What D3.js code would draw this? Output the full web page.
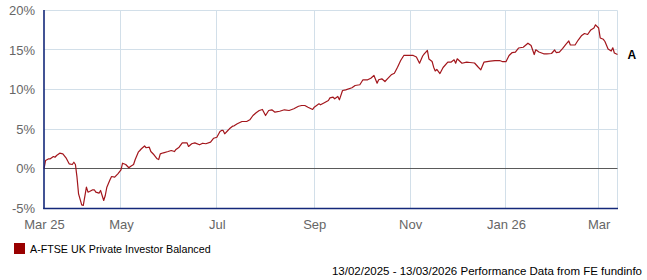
<!DOCTYPE html>
<html><head><meta charset="utf-8">
<script src="https://cdn.jsdelivr.net/npm/d3@7"></script>
<style>body{margin:0;background:#fff}svg{display:block}</style>
</head><body><svg id="c" width="647" height="280"></svg>
<script>
const dates = [
"2025-03-13","2025-03-14","2025-03-16","2025-03-17","2025-03-19","2025-03-20","2025-03-21","2025-03-23","2025-03-25","2025-03-27","2025-03-29","2025-03-31",
"2025-04-01","2025-04-02","2025-04-03","2025-04-04","2025-04-06","2025-04-07","2025-04-09","2025-04-10","2025-04-11","2025-04-13","2025-04-14","2025-04-15","2025-04-17","2025-04-18","2025-04-20","2025-04-21","2025-04-22","2025-04-24","2025-04-25","2025-04-27","2025-04-29",
"2025-05-01","2025-05-02","2025-05-04","2025-05-06","2025-05-07","2025-05-09","2025-05-10","2025-05-12","2025-05-13","2025-05-14","2025-05-16","2025-05-17","2025-05-19","2025-05-20","2025-05-22","2025-05-24","2025-05-25","2025-05-26","2025-05-28","2025-05-31",
"2025-06-02","2025-06-04","2025-06-05","2025-06-07","2025-06-09","2025-06-12","2025-06-13","2025-06-15","2025-06-17","2025-06-20","2025-06-22","2025-06-24","2025-06-27","2025-06-29",
"2025-07-01","2025-07-03","2025-07-04","2025-07-05","2025-07-06","2025-07-08","2025-07-09","2025-07-11","2025-07-12","2025-07-14","2025-07-17","2025-07-20","2025-07-22","2025-07-24","2025-07-26","2025-07-28","2025-07-30",
"2025-08-01","2025-08-03","2025-08-05","2025-08-07","2025-08-10","2025-08-13","2025-08-16","2025-08-19","2025-08-22","2025-08-24","2025-08-26","2025-08-28","2025-08-31",
"2025-09-01","2025-09-04","2025-09-05","2025-09-08","2025-09-10","2025-09-11","2025-09-13","2025-09-14","2025-09-16","2025-09-17","2025-09-19","2025-09-21","2025-09-25","2025-09-27","2025-09-30",
"2025-10-02","2025-10-05","2025-10-07","2025-10-09","2025-10-11","2025-10-12","2025-10-14","2025-10-16","2025-10-18","2025-10-20","2025-10-22","2025-10-24","2025-10-26","2025-10-28","2025-10-31",
"2025-11-03","2025-11-05","2025-11-07","2025-11-09","2025-11-10","2025-11-12","2025-11-13","2025-11-15","2025-11-16","2025-11-17","2025-11-18","2025-11-20","2025-11-22","2025-11-25","2025-11-27","2025-11-29","2025-11-30",
"2025-12-01","2025-12-04","2025-12-07","2025-12-09","2025-12-12","2025-12-14","2025-12-16","2025-12-18","2025-12-22","2025-12-25","2025-12-28","2025-12-30",
"2026-01-01","2026-01-03","2026-01-05","2026-01-07","2026-01-09","2026-01-12","2026-01-15","2026-01-17","2026-01-19","2026-01-20","2026-01-22","2026-01-25","2026-01-27","2026-01-30",
"2026-02-01","2026-02-02","2026-02-04","2026-02-06","2026-02-08","2026-02-10","2026-02-11","2026-02-14","2026-02-16","2026-02-18","2026-02-20","2026-02-22","2026-02-24","2026-02-26","2026-02-27",
"2026-03-01","2026-03-02","2026-03-04","2026-03-05","2026-03-07","2026-03-09","2026-03-10","2026-03-11","2026-03-13"
];
const values = [
0.00,1.05,1.26,1.26,1.55,1.46,1.68,1.97,1.89,1.39,0.63,0.54,
0.83,0.54,-1.06,-3.16,-4.55,-4.63,-2.32,-2.95,-2.87,-2.65,-2.65,-2.95,-3.08,-2.74,-4.00,-3.37,-2.32,-1.39,-0.97,-1.06,-0.63,
-0.13,0.71,0.54,0.13,0.29,0.54,1.14,2.10,2.31,2.53,2.88,2.66,2.73,2.18,1.77,1.26,1.17,1.89,2.02,2.18,
2.31,2.18,2.44,2.73,3.28,3.28,2.82,3.16,3.28,3.03,3.23,3.16,3.36,3.86,
3.99,4.71,4.84,4.84,4.42,4.84,5.05,5.38,5.43,5.68,5.97,5.97,6.19,6.73,7.07,7.36,7.49,
6.73,7.36,7.45,7.15,7.27,7.45,7.36,7.58,7.90,7.99,7.99,7.78,7.49,
7.78,8.21,8.08,8.41,8.62,8.96,9.04,8.84,9.13,8.71,9.89,9.97,10.23,10.52,10.61,
11.24,11.24,11.44,11.78,10.81,11.24,11.36,11.02,11.44,11.87,12.07,12.83,13.67,14.31,14.31,
14.31,14.12,13.33,14.24,14.52,14.94,13.86,13.55,12.83,12.35,12.54,12.03,12.79,13.48,13.46,13.76,13.33,
13.89,13.33,13.46,13.42,13.36,12.92,12.50,13.46,13.59,13.67,13.67,13.52,
13.52,14.31,14.68,14.72,15.25,15.35,15.86,15.57,14.43,15.03,14.75,14.52,14.52,14.56,
15.00,14.68,14.72,15.18,15.69,16.14,15.63,15.63,16.26,16.79,17.08,16.96,17.53,17.78,18.18,
17.78,16.52,16.35,16.07,15.13,14.87,15.28,14.62,14.43
];
const yTicks = [-5, 0, 5, 10, 15, 20];
const xTickDates = ["2025-03-13","2025-05-01","2025-07-01","2025-09-01","2025-11-01","2026-01-01","2026-03-01"];
const xTickLabels = ["Mar 25","May","Jul","Sep","Nov","Jan 26","Mar"];
const domainDates = ["2025-03-13","2026-03-13"];
const seriesName = "A-FTSE UK Private Investor Balanced";
const seriesTag = "A";
const footerText = "13/02/2025 - 13/03/2026 Performance Data from FE fundinfo";

const parse = d3.utcParse("%Y-%m-%d");
const data = dates.map((d, i) => ({date: parse(d), v: values[i]}));
const svg = d3.select("#c");
const L = 44, R = 617.5, T = 10.4, B = 208.4;
const x = d3.scaleUtc().domain(domainDates.map(parse)).range([L, R]);
const y = d3.scaleLinear().domain([-5, 20]).range([B, T]);
const font = "'Liberation Sans', Arial, sans-serif";
const gridCol = "#d2dfe9";
const px = v => Math.floor(v) + 0.5;

// gridlines
const g = svg.append("g");
g.selectAll(".hg").data(yTicks.filter(t => t !== 0 && t !== -5)).join("line")
  .attr("x1", L).attr("x2", px(R)).attr("y1", d => px(y(d))).attr("y2", d => px(y(d)))
  .attr("stroke", gridCol).attr("stroke-width", 1);
g.selectAll(".vg").data(xTickDates.slice(1)).join("line")
  .attr("x1", d => px(x(parse(d)))).attr("x2", d => px(x(parse(d))))
  .attr("y1", px(T)).attr("y2", px(B))
  .attr("stroke", gridCol).attr("stroke-width", 1);
g.append("line").attr("x1", px(R)).attr("x2", px(R)).attr("y1", px(T)).attr("y2", px(B))
  .attr("stroke", gridCol);
// zero line
g.append("line").attr("x1", L).attr("x2", px(R)).attr("y1", px(y(0))).attr("y2", px(y(0)))
  .attr("stroke", "#5a5a5a").attr("stroke-width", 1);

// series line
svg.append("path").datum(data)
  .attr("fill", "none").attr("stroke", "#a3161c").attr("stroke-width", 1.2)
  .attr("stroke-linejoin", "round")
  .attr("d", d3.line().x(d => x(d.date)).y(d => y(d.v)));

// axes frame
svg.append("line").attr("x1", L).attr("x2", L).attr("y1", px(T) - 0.5).attr("y2", px(B) + 0.5)
  .attr("stroke", "#14287a").attr("stroke-width", 1.6);
svg.append("line").attr("x1", L - 0.8).attr("x2", px(R) + 0.5).attr("y1", px(B)).attr("y2", px(B))
  .attr("stroke", "#14287a").attr("stroke-width", 1.6);

// y axis labels
const ya = svg.append("g").attr("transform", `translate(${L},0)`)
  .call(d3.axisLeft(y).tickValues(yTicks).tickSize(0).tickPadding(9).tickFormat(d => d + "%"));
ya.select(".domain").remove();
ya.selectAll("text").attr("font-family", font).attr("font-size", 13).attr("fill", "#666");

// x axis labels
const xa = svg.append("g").attr("transform", `translate(0,${B})`)
  .call(d3.axisBottom(x).tickValues(xTickDates.map(parse)).tickSize(0).tickPadding(11)
    .tickFormat((d, i) => xTickLabels[i]));
xa.select(".domain").remove();
xa.selectAll("text").attr("font-family", font).attr("font-size", 13).attr("fill", "#666");

// end tag
const last = data[data.length - 1];
svg.append("text").attr("x", x(last.date) + 10).attr("y", y(last.v) + 0.5)
  .attr("dominant-baseline", "central")
  .attr("font-family", font).attr("font-weight", "bold").attr("font-size", 12).attr("fill", "#000")
  .text(seriesTag);

// legend
svg.append("rect").attr("x", 14).attr("y", 243).attr("width", 11).attr("height", 11).attr("fill", "#990000");
svg.append("text").attr("x", 30).attr("y", 248.5).attr("dominant-baseline", "central")
  .attr("font-family", font).attr("font-size", 10.7).attr("fill", "#000").text(seriesName);

// footer
svg.append("text").attr("x", 642).attr("y", 270.5).attr("dominant-baseline", "central").attr("text-anchor", "end")
  .attr("font-family", font).attr("font-size", 11.5).attr("fill", "#000").text(footerText);
</script>
</body></html>
